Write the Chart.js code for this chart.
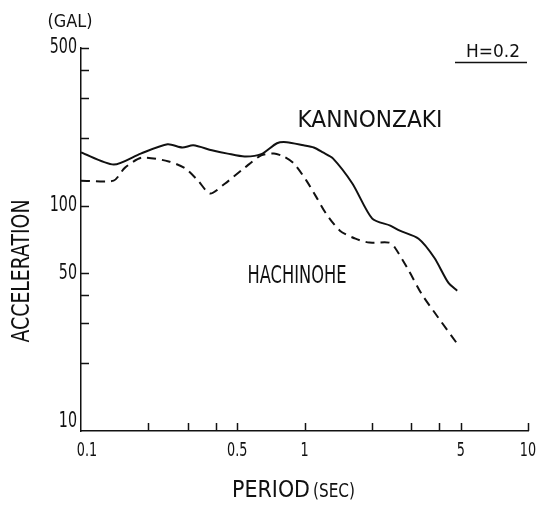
<!DOCTYPE html>
<html>
<head>
<meta charset="utf-8">
<script src="https://cdn.jsdelivr.net/npm/chart.js@4.4.1/dist/chart.umd.min.js"></script>
<style>
  html, body { margin: 0; padding: 0; background: #fff; }
  #wrap { width: 541px; height: 507px; }
</style>
</head>
<body>
<div id="wrap"><canvas id="spectra" width="541" height="507"></canvas></div>
<script>
// KANNONZAKI (solid)
var kannonPeriod = [0.1, 0.14, 0.185, 0.244, 0.284, 0.318, 0.385, 0.453, 0.539, 0.64, 0.753, 0.833,
  0.99, 1.10, 1.21, 1.34, 1.64, 2.01, 2.42, 2.67, 3.24, 3.81, 4.40, 4.82];
var kannonAcc = [172, 152, 170, 187, 181, 185, 176, 170, 165, 169, 189, 191,
  185, 181, 172, 162, 125, 87.5, 81.5, 77.4, 71.3, 58.7, 45.5, 41.9];

// HACHINOHE (dashed)
var hachiPeriod = [0.1, 0.14, 0.157, 0.187, 0.247, 0.293, 0.334, 0.378, 0.44, 0.539, 0.64, 0.73,
  0.808, 0.895, 1.02, 1.13, 1.25, 1.44, 1.69, 1.95, 2.39, 2.54, 2.93, 3.34, 3.97, 4.82];
var hachiAcc = [129, 129, 147, 163, 157, 146, 129, 113, 125, 147, 167, 170,
  165, 154, 129, 109, 92, 77.4, 71.3, 68.5, 68.5, 65, 51.4, 40.6, 31.8, 24.4];

var xTicks = [0.1, 0.2, 0.3, 0.4, 0.5, 1, 2, 3, 4, 5, 10];
var xLabels = [0.1, 0.5, 1, 5, 10];
var yTicks = [10, 20, 30, 40, 50, 100, 200, 300, 400, 500];
var yLabels = [10, 50, 100, 500];

var ink = '#111';
var face = "'DejaVu Sans', sans-serif";

function toPoints(xs, ys) {
  return xs.map(function (x, i) { return { x: x, y: ys[i] }; });
}

// the original lettering is very narrow, so squeeze horizontally
function drawText(ctx, str, x, y, size, sx, align, rot) {
  ctx.save();
  ctx.font = size + 'px ' + face;
  ctx.fillStyle = ink;
  ctx.textAlign = align || 'center';
  ctx.textBaseline = 'middle';
  ctx.translate(x, y);
  if (rot) ctx.rotate(rot);
  ctx.scale(sx, 1);
  ctx.fillText(str, 0, 0);
  ctx.restore();
}

function fitText(ctx, str, cx, cy, size, width, rot) {
  ctx.save();
  ctx.font = size + 'px ' + face;
  var w = ctx.measureText(str).width;
  ctx.restore();
  drawText(ctx, str, cx, cy, size, width / w, 'center', rot);
}

var decorations = {
  id: 'decorations',
  afterDraw: function (chart) {
    var ctx = chart.ctx, area = chart.chartArea, sx = chart.scales.x, sy = chart.scales.y;
    ctx.save();
    ctx.strokeStyle = ink;
    ctx.lineWidth = 1.5;
    ctx.beginPath();
    // ticks point into the plot
    yTicks.forEach(function (v) {
      if (v === 10) return;
      var py = Math.round(sy.getPixelForValue(v)) + 0.5;
      ctx.moveTo(area.left, py);
      ctx.lineTo(area.left + 8, py);
    });
    xTicks.forEach(function (v) {
      if (v === 0.1) return;
      var px = Math.round(sx.getPixelForValue(v)) + 0.5;
      ctx.moveTo(px, area.bottom);
      ctx.lineTo(px, area.bottom - 8);
    });
    ctx.stroke();

    // underline of H=0.2
    ctx.beginPath();
    ctx.moveTo(455, 62.5);
    ctx.lineTo(527, 62.5);
    ctx.stroke();
    ctx.restore();

    // tick labels
    yLabels.forEach(function (v) {
      var py = Math.min(sy.getPixelForValue(v), area.bottom - 9);
      drawText(ctx, String(v), area.left - 4, py, 21, 0.68, 'right');
    });
    xLabels.forEach(function (v) {
      var px = sx.getPixelForValue(v);
      if (v === 0.1) px += 6;
      drawText(ctx, String(v), px, area.bottom + 20, 20, 0.64, 'center');
    });

    fitText(ctx, '(GAL)', 70, 22, 18, 45);
    fitText(ctx, 'H=0.2', 493, 52, 18, 54);
    fitText(ctx, 'KANNONZAKI', 370, 121, 23, 145);
    fitText(ctx, 'HACHINOHE', 297, 277, 24, 99);
    fitText(ctx, 'PERIOD', 271, 491, 23, 78);
    fitText(ctx, '(SEC)', 334, 492, 19, 42);
    fitText(ctx, 'ACCELERATION', 22, 271, 25, 143, -Math.PI / 2);
  }
};

var ctx = document.getElementById('spectra');
new Chart(ctx, {
  type: 'line',
  data: {
    datasets: [{
      label: 'KANNONZAKI',
      data: toPoints(kannonPeriod, kannonAcc),
      borderColor: ink,
      borderWidth: 2,
      pointRadius: 0,
      tension: 0.25,
      fill: false
    }, {
      label: 'HACHINOHE',
      data: toPoints(hachiPeriod, hachiAcc),
      borderColor: ink,
      borderWidth: 2,
      borderDash: [9, 6],
      pointRadius: 0,
      tension: 0.25,
      fill: false
    }]
  },
  options: {
    responsive: false,
    animation: false,
    layout: { padding: { top: 48, right: 13, left: 0, bottom: 0 } },
    plugins: {
      legend: { display: false },
      tooltip: { enabled: false },
      title: { display: false }
    },
    scales: {
      x: {
        type: 'logarithmic',
        min: 0.1,
        max: 10,
        afterBuildTicks: function (scale) {
          scale.ticks = xTicks.map(function (v) { return { value: v }; });
        },
        afterFit: function (scale) {
          scale.height = 76;
          scale.paddingLeft = 0;
          scale.paddingRight = 0;
        },
        grid: { display: true, drawOnChartArea: false, drawTicks: false },
        border: { display: true, color: ink, width: 1.5 },
        ticks: { display: false }
      },
      y: {
        type: 'logarithmic',
        min: 10,
        max: 500,
        afterBuildTicks: function (scale) {
          scale.ticks = yTicks.map(function (v) { return { value: v }; });
        },
        afterFit: function (scale) {
          scale.width = 81;
          scale.paddingTop = 0;
          scale.paddingBottom = 0;
        },
        grid: { display: true, drawOnChartArea: false, drawTicks: false },
        border: { display: true, color: ink, width: 1.5 },
        ticks: { display: false }
      }
    }
  },
  plugins: [decorations]
});
</script>
</body>
</html>
